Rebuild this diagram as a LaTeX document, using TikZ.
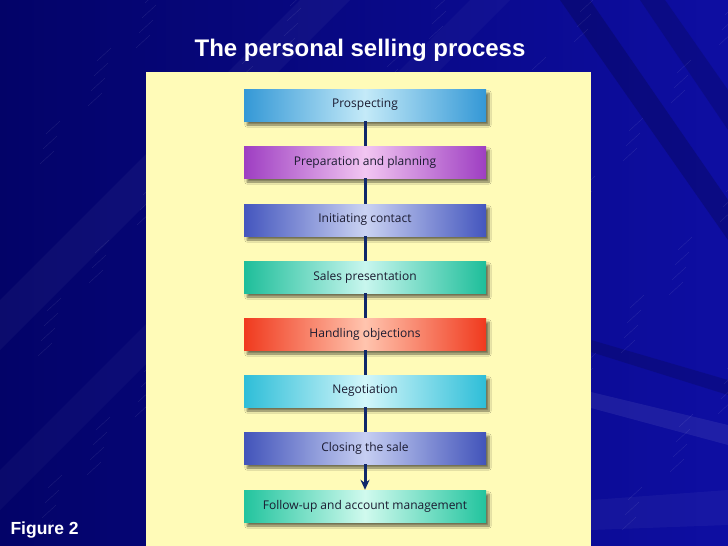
\documentclass[tikz,border=0pt]{standalone}
\usepackage{fontspec}
\setmainfont{Liberation Sans}
\newfontfamily\boxfont{Open Sans}
\usetikzlibrary{shadows.blur,arrows.meta}
\definecolor{navyL}{HTML}{030368}
\definecolor{navyR}{HTML}{0E0EA2}
\definecolor{panel}{HTML}{FFFBB8}
\definecolor{conn}{HTML}{10286A}
\definecolor{boxtext}{HTML}{1A1A30}
\definecolor{cA}{HTML}{3498D6}\definecolor{cAm}{HTML}{C4EAF8}
\definecolor{cB}{HTML}{9E3EC2}\definecolor{cBm}{HTML}{F2C6F2}
\definecolor{cC}{HTML}{4456BE}\definecolor{cCm}{HTML}{CAD2F2}
\definecolor{cD}{HTML}{1EBE9A}\definecolor{cDm}{HTML}{C8F6EE}
\definecolor{cE}{HTML}{F03A1E}\definecolor{cEm}{HTML}{FFC4AE}
\definecolor{cF}{HTML}{2EBED8}\definecolor{cFm}{HTML}{D2F6FA}
\definecolor{cG}{HTML}{4254BA}\definecolor{cGm}{HTML}{C6CEF2}
\definecolor{cH}{HTML}{22C49E}\definecolor{cHm}{HTML}{D0FAEE}
\tikzset{
  stepbox/.style={minimum width=242pt, minimum height=32pt, inner sep=0pt,
    font=\boxfont\fontsize{12}{14}\selectfont, text=boxtext,
    blur shadow={shadow xshift=3pt, shadow yshift=-4pt, shadow blur steps=8, shadow opacity=55}},
  link/.style={draw=conn, line width=3pt},
  boxcol/.style 2 args={left color=#1, right color=#1, middle color=#2},
}
\begin{document}
\begin{tikzpicture}[x=1pt,y=-1pt]
\useasboundingbox (0,0) rectangle (728,546);
\shade[left color=navyL, right color=navyR] (0,0) rectangle (728,546);
% subtle diagonal bands
\fill[white,opacity=0.04] (0,300) -- (300,0) -- (350,0) -- (0,350) -- cycle;
\fill[white,opacity=0.03] (0,470) -- (470,0) -- (510,0) -- (0,510) -- cycle;
\fill[black,opacity=0.18] (560,0) -- (590,0) -- (728,200) -- (728,240) -- cycle;
\fill[black,opacity=0.15] (640,0) -- (665,0) -- (728,90) -- (728,130) -- cycle;
\fill[white,opacity=0.07] (591,392) -- (728,425) -- (728,445) -- (591,408) -- cycle;
\fill[black,opacity=0.15] (591,340) -- (728,380) -- (728,395) -- (591,352) -- cycle;
\fill[white,opacity=0.04] (591,500) -- (728,490) -- (728,525) -- (591,530) -- cycle;
% faint streaks
\foreach \i in {0,...,160}{
  \pgfmathsetmacro{\sx}{mod(\i*97,728)}
  \pgfmathsetmacro{\sy}{mod(\i*61,546)}
  \draw[white,opacity=0.1,line width=0.4pt] (\sx,\sy) -- ++(14,-13);
}
\fill[panel] (146,72) rectangle (591,546);
\node[font=\bfseries\fontsize{24}{28}\selectfont, text=white] (title) at (360,50) {The personal selling process};
\node[font=\bfseries\fontsize{17.5}{20}\selectfont, text=white, anchor=west] (fig) at (7,530) {Figure 2};

\node[stepbox, boxcol={cA}{cAm}] (s1) at (365,105) {Prospecting};
\node[stepbox, boxcol={cB}{cBm}] (s2) at (365,162) {Preparation and planning};
\node[stepbox, boxcol={cC}{cCm}] (s3) at (365,220) {Initiating contact};
\node[stepbox, boxcol={cD}{cDm}] (s4) at (365,277) {Sales presentation};
\node[stepbox, boxcol={cE}{cEm}] (s5) at (365,334) {Handling objections};
\node[stepbox, boxcol={cF}{cFm}] (s6) at (365,391) {Negotiation};
\node[stepbox, boxcol={cG}{cGm}] (s7) at (365,448) {Closing the sale};
\node[stepbox, boxcol={cH}{cHm}] (s8) at (365,506) {Follow-up and account management};

\draw[link] (s1.south) -- (s2.north);
\draw[link] (s2.south) -- (s3.north);
\draw[link] (s3.south) -- (s4.north);
\draw[link] (s4.south) -- (s5.north);
\draw[link] (s5.south) -- (s6.north);
\draw[link] (s6.south) -- (s7.north);
\draw[link,-{Stealth[length=10pt,width=9pt]}] (s7.south) -- (s8.north);
\end{tikzpicture}
\end{document}
